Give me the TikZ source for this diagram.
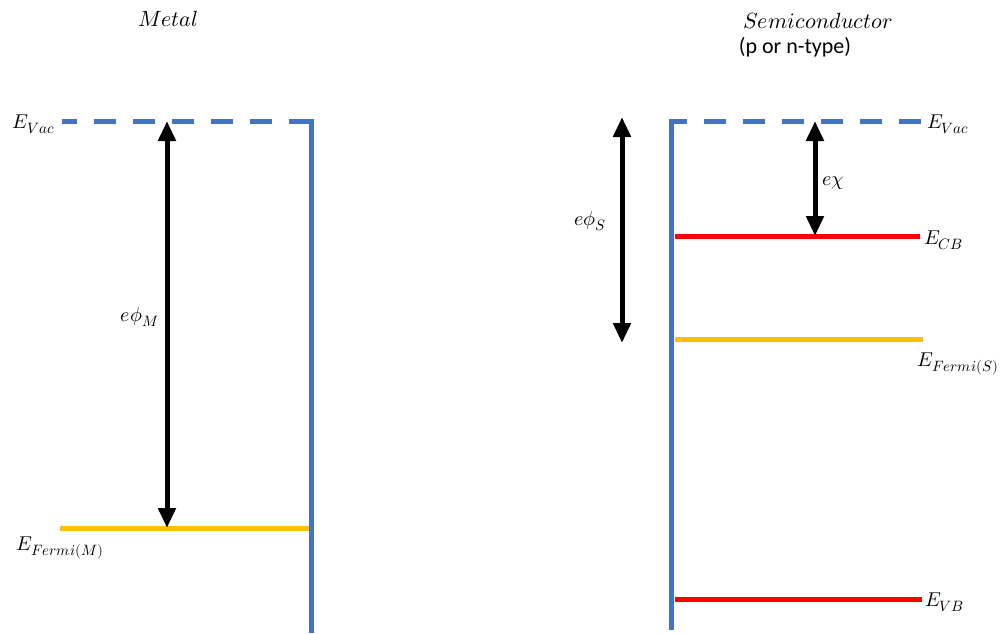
\documentclass[tikz,border=0pt]{standalone}
\usepackage{fontspec}
\usepackage{unicode-math}
\setmathfont{Latin Modern Math}
\newfontfamily\calib{Carlito}
\newcommand\sbx[1]{\mbox{\fontsize{15}{18}\selectfont$#1$}}
\usetikzlibrary{arrows.meta}
\definecolor{lvblue}{HTML}{4472C4}
\definecolor{lvred}{HTML}{FF0000}
\definecolor{lvyellow}{HTML}{FFC000}
\tikzset{
  blueline/.style={draw=lvblue,line width=5pt},
  vacline/.style={blueline,dash pattern=on 22pt off 17pt},
  redline/.style={draw=lvred,line width=5pt},
  yelline/.style={draw=lvyellow,line width=5pt},
  dblarrow/.style={draw=black,line width=5pt,{Triangle[width=17pt,length=20pt]}-{Triangle[width=17pt,length=20pt]}},
  lbl/.style={inner sep=0pt,font=\fontsize{20}{24}\selectfont},
  ttl/.style={inner sep=0pt,font=\fontsize{22}{26}\selectfont},
}
\begin{document}
\begin{tikzpicture}[x=1pt,y=-1pt]
\useasboundingbox[fill=white] (0,0) rectangle (1005,633);
% ---- Metal ----
\coordinate (mvl) at (62,121);
\coordinate (mcorner) at (311,121);
\coordinate (mbot) at (311,633);
\coordinate (mfl) at (60,528);
\coordinate (mfr) at (309,528);
\coordinate (mat) at (167,121);
\coordinate (mab) at (167,528);
\draw[yelline] (mfl) -- (mfr);
\draw[vacline] (mcorner) -- (mvl);
\draw[blueline] (311,118.5) -- (mbot);
\draw[dblarrow] (mab) -- (mat);
\node[ttl] (metal) at (168,19) {$Metal$};
\node[lbl,anchor=east] (mvac) at (55,124) {$E_{\sbx{Vac}}$};
\node[lbl,anchor=east] (phim) at (159,317) {$e\phi_{\sbx{M}}$};
\node[lbl] (mferm) at (60,548) {$E_{\sbx{Fermi(M)}}$};
% ---- Semiconductor ----
\coordinate (scorner) at (671,121);
\coordinate (sbot) at (671,630);
\coordinate (svr) at (921,121);
\coordinate (cbl) at (675,236);
\coordinate (cbr) at (920,236);
\coordinate (sfl) at (675,339);
\coordinate (sfr) at (923,339);
\coordinate (vbl) at (675,599);
\coordinate (vbr) at (922,599);
\coordinate (chit) at (815,121);
\coordinate (chib) at (815,236);
\coordinate (phst) at (622,117);
\coordinate (phsb) at (622,343);
\draw[vacline] (svr) -- (scorner);
\draw[blueline] (671,118.5) -- (sbot);
\draw[redline] (cbl) -- (cbr);
\draw[yelline] (sfl) -- (sfr);
\draw[redline] (vbl) -- (vbr);
\draw[dblarrow] (chib) -- (chit);
\draw[dblarrow] (phsb) -- (phst);
\node[ttl] (semi) at (818,21) {$Semiconductor$};
\node[inner sep=0pt,font=\calib\fontsize{22}{26}\selectfont] (ptype) at (795,47) {(p or n-type)};
\node[lbl,anchor=west] (svac) at (927,124) {$E_{\sbx{Vac}}$};
\node[lbl,anchor=west] (chi) at (822,183) {$e\chi$};
\node[lbl] (phis) at (590,221) {$e\phi_{\sbx{S}}$};
\node[lbl,anchor=west] (ecb) at (924,240) {$E_{\sbx{CB}}$};
\node[lbl] (sferm) at (958,364) {$E_{\sbx{Fermi(S)}}$};
\node[lbl,anchor=west] (evb) at (925,602) {$E_{\sbx{VB}}$};
\end{tikzpicture}
\end{document}
